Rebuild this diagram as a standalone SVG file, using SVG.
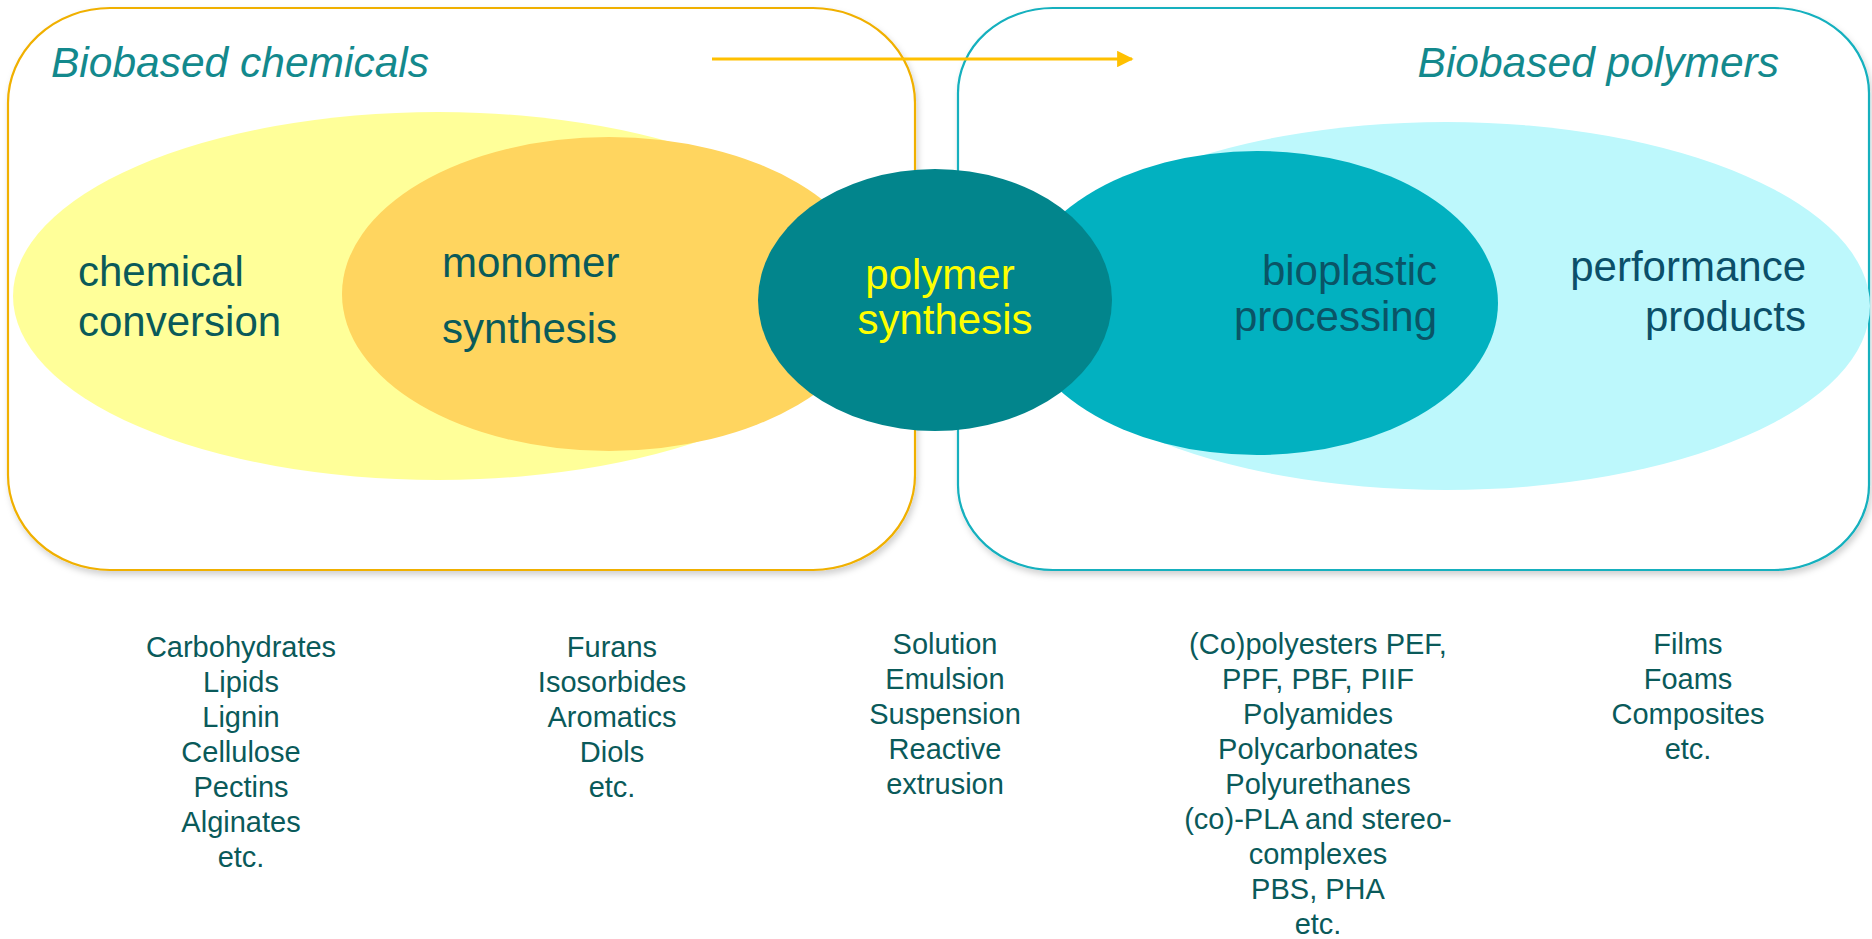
<svg xmlns="http://www.w3.org/2000/svg" width="1872" height="939" viewBox="0 0 1872 939">
<style>
  text { font-family: "Liberation Sans", Arial, sans-serif; }
  .title { font-size: 42.5px; font-style: italic; fill: #13898D; }
  .lbl { font-size: 42px; fill: #0A5A5A; }
  .lblb { font-size: 42px; fill: #0A5466; }
  .lblp { font-size: 42px; fill: #0B4F69; }
  .lbly { font-size: 42px; fill: #FFFF00; }
  .list { font-size: 29px; fill: #0A5A5A; text-anchor: middle; }
</style>
<defs>
  <filter id="sh" x="-5%" y="-5%" width="110%" height="112%">
    <feDropShadow dx="2" dy="4" stdDeviation="3" flood-color="#000" flood-opacity="0.18"/>
  </filter>
  <marker id="ah" viewBox="0 0 10 10" refX="9" refY="5" markerWidth="5.5" markerHeight="5.5" orient="auto" markerUnits="strokeWidth">
    <path d="M0,0 L10,5 L0,10 Z" fill="#FFC000"/>
  </marker>
</defs>

<g id="box-chemicals">
  <rect x="8" y="8" width="907" height="562" rx="102" ry="95" fill="#FFFFFF" stroke="#F0B000" stroke-width="2.2" filter="url(#sh)"/>
  <text class="title" x="51" y="77">Biobased chemicals</text>
</g>
<g id="box-polymers">
  <rect x="958" y="8" width="911" height="562" rx="95" ry="85" fill="#FFFFFF" stroke="#12B0BE" stroke-width="2.2" filter="url(#sh)"/>
  <text class="title" x="1779" y="77" text-anchor="end">Biobased polymers</text>
</g>

<g id="chemical-conversion">
  <ellipse cx="438" cy="296" rx="425" ry="184" fill="#FFFF99"/>
  <text class="lbl" x="78" y="286">chemical</text>
  <text class="lbl" x="78" y="336">conversion</text>
</g>
<g id="monomer-synthesis">
  <ellipse cx="609" cy="294" rx="267" ry="157" fill="#FFD55F"/>
  <text class="lbl" x="442" y="277">monomer</text>
  <text class="lbl" x="442" y="343">synthesis</text>
</g>
<g id="performance-products">
  <ellipse cx="1446" cy="306" rx="424" ry="184" fill="#BDF8FC"/>
  <text class="lblp" x="1806" y="281" text-anchor="end">performance</text>
  <text class="lblp" x="1806" y="331" text-anchor="end">products</text>
</g>
<g id="bioplastic-processing">
  <ellipse cx="1257" cy="303" rx="241" ry="152" fill="#02B1C0"/>
  <text class="lblb" x="1437" y="285" text-anchor="end">bioplastic</text>
  <text class="lblb" x="1437" y="331" text-anchor="end">processing</text>
</g>
<g id="polymer-synthesis">
  <ellipse cx="935" cy="300" rx="177" ry="131" fill="#02858C"/>
  <text class="lbly" x="940" y="289" text-anchor="middle">polymer</text>
  <text class="lbly" x="945" y="334" text-anchor="middle">synthesis</text>
</g>

<g id="connectors">
  <line x1="712" y1="59" x2="1132" y2="59" stroke="#FFC000" stroke-width="3" marker-end="url(#ah)"/>
</g>

<g id="list-chemicals">
  <text class="list" x="241" y="657">Carbohydrates</text>
  <text class="list" x="241" y="692">Lipids</text>
  <text class="list" x="241" y="727">Lignin</text>
  <text class="list" x="241" y="762">Cellulose</text>
  <text class="list" x="241" y="797">Pectins</text>
  <text class="list" x="241" y="832">Alginates</text>
  <text class="list" x="241" y="867">etc.</text>
</g>
<g id="list-monomers">
  <text class="list" x="612" y="657">Furans</text>
  <text class="list" x="612" y="692">Isosorbides</text>
  <text class="list" x="612" y="727">Aromatics</text>
  <text class="list" x="612" y="762">Diols</text>
  <text class="list" x="612" y="797">etc.</text>
</g>
<g id="list-polymerisation">
  <text class="list" x="945" y="654">Solution</text>
  <text class="list" x="945" y="689">Emulsion</text>
  <text class="list" x="945" y="724">Suspension</text>
  <text class="list" x="945" y="759">Reactive</text>
  <text class="list" x="945" y="794">extrusion</text>
</g>
<g id="list-bioplastics">
  <text class="list" x="1318" y="654">(Co)polyesters PEF,</text>
  <text class="list" x="1318" y="689">PPF, PBF, PIIF</text>
  <text class="list" x="1318" y="724">Polyamides</text>
  <text class="list" x="1318" y="759">Polycarbonates</text>
  <text class="list" x="1318" y="794">Polyurethanes</text>
  <text class="list" x="1318" y="829">(co)-PLA and stereo-</text>
  <text class="list" x="1318" y="864">complexes</text>
  <text class="list" x="1318" y="899">PBS, PHA</text>
  <text class="list" x="1318" y="934">etc.</text>
</g>
<g id="list-products">
  <text class="list" x="1688" y="654">Films</text>
  <text class="list" x="1688" y="689">Foams</text>
  <text class="list" x="1688" y="724">Composites</text>
  <text class="list" x="1688" y="759">etc.</text>
</g>
</svg>
